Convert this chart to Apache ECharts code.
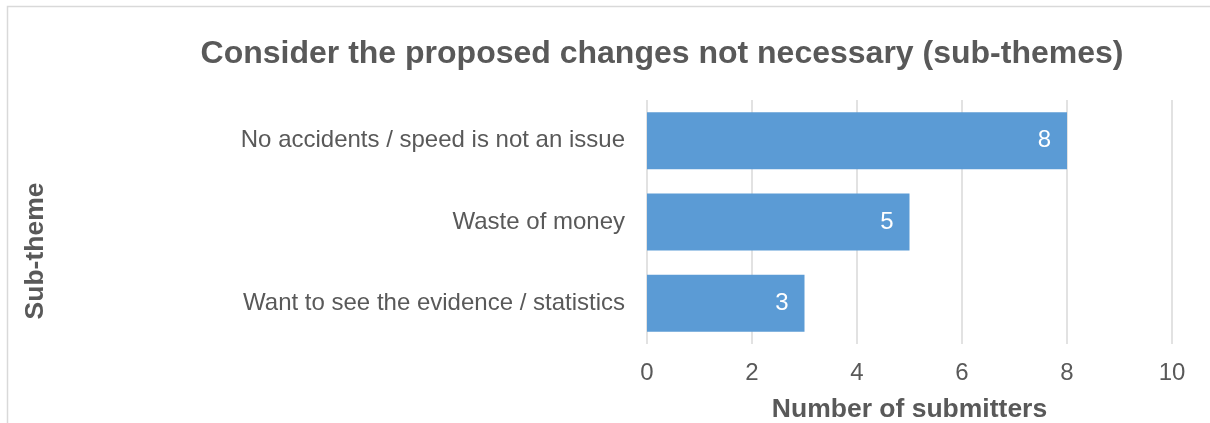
<!DOCTYPE html>
<html>
<head>
<meta charset="utf-8">
<script src="https://cdn.jsdelivr.net/npm/echarts@6/dist/echarts.min.js"></script>
<style>
  html, body { margin: 0; padding: 0; background: #fff; }
  #chart { width: 1210px; height: 423px; }
</style>
</head>
<body>
<div id="chart"></div>
<script>
// Sub-themes, listed top to bottom
const categories = [
  'No accidents / speed is not an issue',
  'Waste of money',
  'Want to see the evidence / statistics'
];
const submitters = [8, 5, 3];
const xTicks = [0, 2, 4, 6, 8, 10];

const FONT = '"Liberation Sans", Arial, sans-serif';
const TEXT = '#595959';

const chart = echarts.init(document.getElementById('chart'));
chart.setOption({
  animation: false,
  textStyle: { fontFamily: FONT },
  graphic: [
    {
      // chart-area frame (runs off the right and bottom edges)
      type: 'rect',
      shape: { x: 7.5, y: 6.5, width: 1230, height: 440 },
      style: { fill: 'none', stroke: '#d9d9d9', lineWidth: 1.5 },
      silent: true
    },
    {
      // vertical axis title, centred on the chart area
      type: 'text',
      x: 36, y: 251,
      rotation: Math.PI / 2,
      style: {
        text: 'Sub-theme',
        fill: TEXT,
        font: 'bold 26.5px ' + FONT,
        align: 'center',
        verticalAlign: 'middle'
      },
      silent: true
    }
  ],
  title: {
    text: 'Consider the proposed changes not necessary (sub-themes)',
    left: 657, top: 33, textAlign: 'center',
    textStyle: { fontFamily: FONT, fontSize: 32, fontWeight: 'bold', color: TEXT }
  },
  grid: { left: 647, right: 38, top: 100, bottom: 79, outerBoundsMode: 'none', containLabel: false },
  xAxis: {
    type: 'value',
    min: xTicks[0], max: xTicks[xTicks.length - 1], interval: xTicks[1] - xTicks[0],
    name: 'Number of submitters',
    nameLocation: 'middle', nameGap: 52,
    nameTextStyle: { fontFamily: FONT, fontSize: 26.5, fontWeight: 'bold', color: TEXT },
    axisLine: { show: false },
    axisTick: { show: false },
    axisLabel: { fontFamily: FONT, fontSize: 24, color: TEXT, margin: 17 },
    splitLine: { lineStyle: { color: '#d9d9d9', width: 1.5 } }
  },
  yAxis: {
    type: 'category',
    data: categories,
    inverse: true,
    axisLine: { show: false },
    axisTick: { show: false },
    axisLabel: { fontFamily: FONT, fontSize: 24, color: TEXT, margin: 22 }
  },
  series: [{
    type: 'bar',
    data: submitters,
    barCategoryGap: '30%',
    itemStyle: { color: '#5B9BD5' },
    label: {
      show: true, position: 'insideRight', distance: 16,
      fontFamily: FONT, fontSize: 24, color: '#ffffff'
    }
  }]
});
</script>
</body>
</html>
